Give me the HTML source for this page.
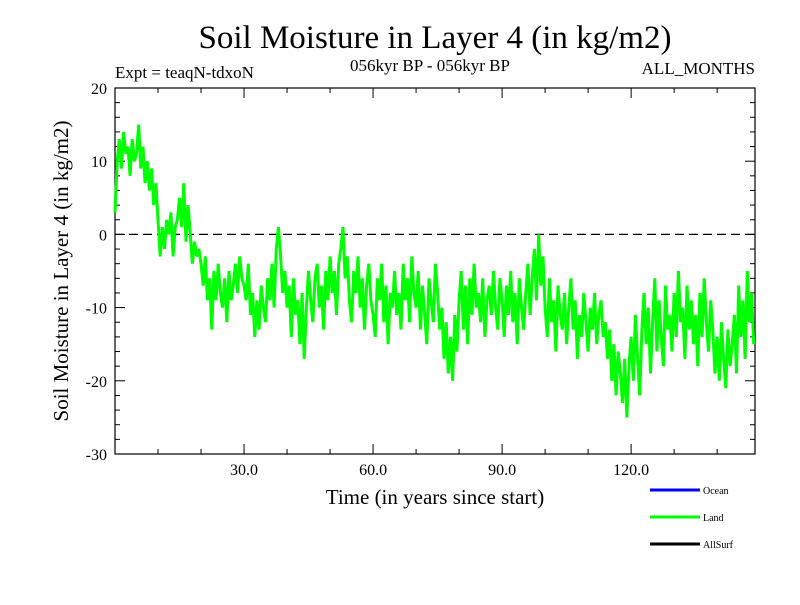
<!DOCTYPE html>
<html><head><meta charset="utf-8"><style>
body{margin:0;background:#fff;}
svg text{font-family:"Liberation Serif",serif;}
</style></head><body>
<svg id="chart" width="800" height="600" xmlns="http://www.w3.org/2000/svg">
<rect width="800" height="600" fill="#fff"/>
<text x="435" y="48" font-size="33" text-anchor="middle">Soil Moisture in Layer 4 (in kg/m2)</text>
<text x="115" y="78" font-size="17">Expt = teaqN-tdxoN</text>
<text x="430" y="71" font-size="17" text-anchor="middle">056kyr BP - 056kyr BP</text>
<text x="755" y="74" font-size="17" text-anchor="end">ALL_MONTHS</text>
<text transform="translate(68,271) rotate(-90)" font-size="21" text-anchor="middle">Soil Moisture in Layer 4 (in kg/m2)</text>
<text x="435" y="504" font-size="21" text-anchor="middle">Time (in years since start)</text>
<g id="axes"></g>
<g id="series"></g>
<g id="legend" font-family="Liberation Sans,sans-serif">
<line x1="650" y1="490" x2="700" y2="490" stroke="#0000ff" stroke-width="3"/>
<text x="703" y="494" font-size="10" font-family="Liberation Sans,sans-serif">Ocean</text>
<line x1="650" y1="517" x2="700" y2="517" stroke="#00ff00" stroke-width="3"/>
<text x="703" y="521" font-size="10" font-family="Liberation Sans,sans-serif">Land</text>
<line x1="650" y1="544" x2="700" y2="544" stroke="#000" stroke-width="3"/>
<text x="703" y="548" font-size="10" font-family="Liberation Sans,sans-serif">AllSurf</text>
</g>
</svg>
<script>
const landValues = [3,10,13,9,14,11,12,8,13,10,
11,15,9,12,7,10,6,9,4,7,
2,-3,1,-2,2,0,3,-3,1,2,
5,1,7,-1,4,0,-4,-1,-3,-2,
-4,-7,-3,-9,-6,-13,-5,-9,-4,-8,
-10,-6,-12,-5,-9,-7,-4,-8,-3,-6,
-7,-9,-4,-11,-8,-14,-9,-13,-7,-10,
-12,-6,-9,-4,-10,-2,1,-3,-8,-5,
-10,-7,-14,-6,-11,-9,-15,-8,-17,-10,
-5,-9,-12,-6,-4,-10,-7,-13,-5,-9,
-3,-8,-5,-11,-4,-2,1,-6,-3,-9,
-12,-5,-8,-3,-10,-6,-13,-7,-4,-9,
-11,-14,-6,-9,-4,-12,-7,-15,-8,-10,
-5,-11,-8,-13,-4,-9,-6,-12,-3,-8,
-10,-5,-13,-7,-11,-15,-6,-9,-12,-4,
-8,-13,-10,-17,-12,-19,-14,-20,-11,-16,
-9,-5,-13,-7,-15,-6,-11,-4,-10,-8,
-12,-6,-14,-9,-7,-11,-5,-10,-13,-6,
-9,-14,-7,-11,-5,-12,-8,-15,-6,-10,
-13,-8,-4,-11,-6,-2,-9,0,-7,-3,
-10,-14,-6,-12,-9,-16,-7,-11,-13,-8,
-15,-10,-6,-13,-9,-17,-11,-14,-8,-12,
-16,-10,-13,-8,-15,-11,-9,-14,-12,-17,
-13,-20,-15,-22,-16,-19,-23,-17,-25,-18,
-14,-20,-11,-17,-22,-13,-8,-15,-10,-19,
-12,-6,-16,-9,-14,-18,-7,-13,-11,-16,
-8,-14,-5,-12,-10,-17,-7,-13,-9,-15,
-11,-18,-8,-14,-6,-12,-16,-9,-13,-19,
-14,-20,-12,-17,-21,-13,-18,-15,-11,-19,
-7,-14,-9,-17,-5,-12,-8,-15];
const yearStep = 0.5;
const yTickLabels = [20,10,0,-10,-20,-30];
const xTickLabels = [30,60,90,120];

const X0=115,X1=755,Y0=88,Y1=454,XMIN=0,XMAX=148.8,YMIN=-30,YMAX=20;
function sx(t){return X0+(t-XMIN)/(XMAX-XMIN)*(X1-X0);}
function sy(v){return Y1-(v-YMIN)/(YMAX-YMIN)*(Y1-Y0);}
const NS="http://www.w3.org/2000/svg";
const axes=document.getElementById('axes');
function mk(tag,attrs,parent){const e=document.createElementNS(NS,tag);for(const k in attrs)e.setAttribute(k,attrs[k]);parent.appendChild(e);return e;}

const frame=mk('rect',{x:X0,y:Y0,width:X1-X0,height:Y1-Y0,fill:'none',stroke:'#000','stroke-width':1.2},axes);



for(let v=YMIN;v<=YMAX;v+=2){
  const major=v%10===0, len=major?10:5, y=sy(v);
  const l1=mk('line',{x1:X0,y1:y,x2:X0+len,y2:y,stroke:'#000'},axes);
  
  
  const l2=mk('line',{x1:X1,y1:y,x2:X1-len,y2:y,stroke:'#000'},axes);
  
  
}
yTickLabels.forEach(v=>{
  const t=mk('text',{x:X0-8,y:sy(v)+6,'font-size':16,'text-anchor':'end'},axes);
  t.textContent=String(v);
  
  
});
for(let t=10;t<XMAX;t+=10){
  const major=t%30===0,len=major?10:5,x=sx(t);
  const a=mk('line',{x1:x,y1:Y1,x2:x,y2:Y1-len,stroke:'#000'},axes);
  
  
  const b=mk('line',{x1:x,y1:Y0,x2:x,y2:Y0+len,stroke:'#000'},axes);
  
  
}
xTickLabels.forEach(t=>{
  const e=mk('text',{x:sx(t),y:Y1+21,'font-size':16,'text-anchor':'middle'},axes);
  e.textContent=t.toFixed(1);
  
  
});
const zero=mk('line',{x1:X0,y1:sy(0),x2:X1,y2:sy(0),stroke:'#000','stroke-dasharray':'9,5','stroke-width':1.2},axes);



const pts=landValues.map((v,i)=>sx(i*yearStep).toFixed(1)+','+sy(v).toFixed(1)).join(' ');
const line=mk('polyline',{points:pts,fill:'none',stroke:'#00ff00','stroke-width':3,'stroke-linejoin':'miter'},document.getElementById('series'));


</script>
</body></html>
